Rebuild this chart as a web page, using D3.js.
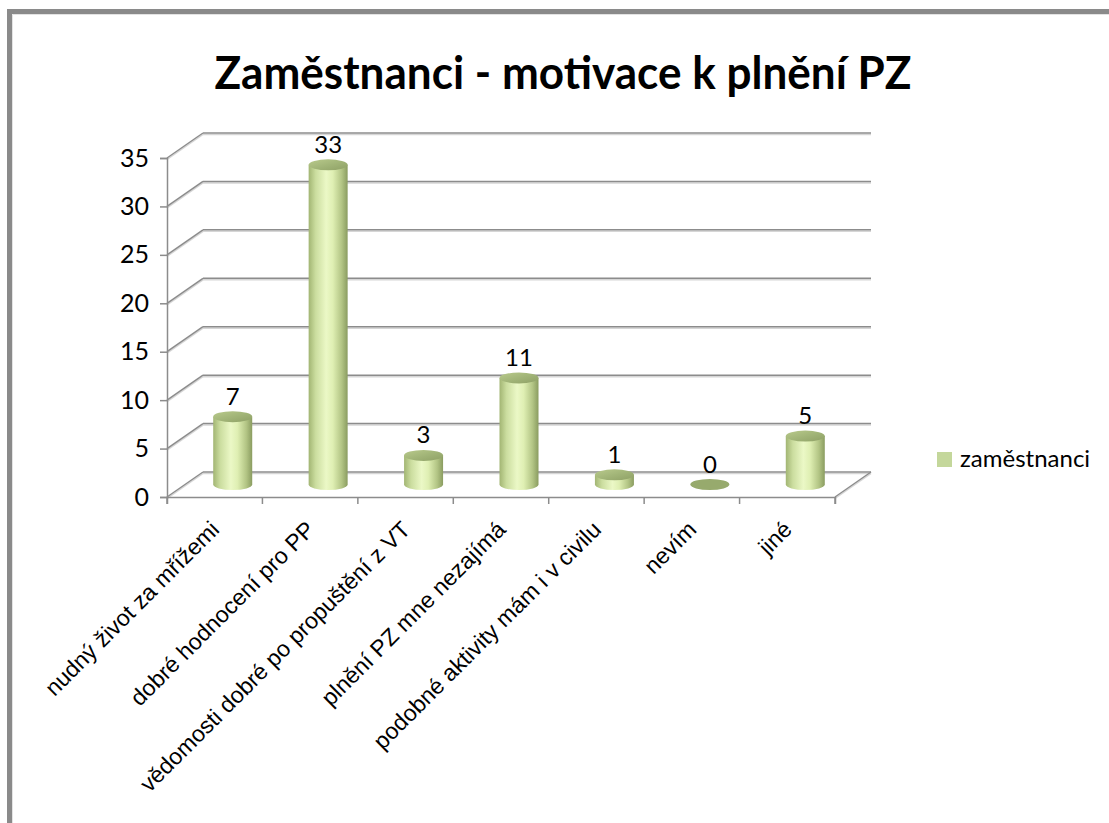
<!DOCTYPE html>
<html>
<head>
<meta charset="utf-8">
<script src="https://cdn.jsdelivr.net/npm/d3@7"></script>
<style>
  body { margin: 0; background: #fff; }
  svg { display: block; }
</style>
</head>
<body>
<div id="chart"></div>
<script>
'use strict';

var categories = ["nudný život za mřížemi", "dobré hodnocení pro PP", "vědomosti dobré po propuštění z VT",
  "plnění PZ mne nezajímá", "podobné aktivity mám i v civilu", "nevím", "jiné"];
var values = [7, 33, 3, 11, 1, 0, 5];
var yTicks = [0, 5, 10, 15, 20, 25, 30, 35];
var seriesName = "zaměstnanci";
var title = "Zaměstnanci - motivace k plnění PZ";

var W = 1109, H = 823;
var depth = { dx: 36, dy: -25 };   // 3d wall offset
var calibri = "Lato, 'Open Sans', sans-serif";

var svg = d3.select("#chart").append("svg").attr("width", W).attr("height", H);
var defs = svg.append("defs");

// frame (only top and left edges are inside the picture)
svg.append("rect").attr("x", 9.5).attr("y", 11.5).attr("width", 1400).attr("height", 1200)
  .attr("fill", "none").attr("stroke", "#8a8a8a").attr("stroke-width", 5);
svg.append("path").attr("d", "M12.5,830V14.5H1109").attr("fill", "none").attr("stroke", "#e3e3e3").attr("stroke-width", 1);

svg.append("text").attr("x", 563).attr("y", 89).attr("text-anchor", "middle")
  .attr("font-family", calibri).attr("font-weight", "bold").attr("font-size", 45)
  .attr("textLength", 697).attr("lengthAdjust", "spacingAndGlyphs")
  .text(title);

var x = d3.scaleBand().domain(categories).range([167, 835]);
var y = d3.scaleLinear().domain([0, 35]).range([497, 158]);

var grid = svg.append("g");
function gridLine(xa, ya, xb, yb) {
  grid.append("line").attr("x1", xa).attr("y1", ya + 1.5).attr("x2", xb).attr("y2", yb + 1.5)
    .attr("stroke", "#d6d6d6").attr("stroke-width", 1.5);
  grid.append("line").attr("x1", xa).attr("y1", ya).attr("x2", xb).attr("y2", yb)
    .attr("stroke", "#8c8c8c").attr("stroke-width", 1.5);
}
var x0 = x.range()[0], x1 = x.range()[1];
yTicks.forEach(function(t) {
  gridLine(x0, y(t), x0 + depth.dx, y(t) + depth.dy);
  gridLine(x0 + depth.dx, y(t) + depth.dy, x1 + depth.dx, y(t) + depth.dy);
});
// floor right edge
gridLine(x1, y(0), x1 + depth.dx, y(0) + depth.dy);

// axes
var yAxis = d3.axisLeft(y).tickValues(yTicks).tickSize(7).tickPadding(11);
var gy = svg.append("g").attr("transform", "translate(" + x0 + ",0)").call(yAxis);
gy.select(".domain").attr("stroke", "#8c8c8c").attr("stroke-width", 1.5);
gy.selectAll(".tick line").attr("stroke", "#8c8c8c").attr("stroke-width", 1.5);
gy.selectAll(".tick text").attr("font-family", calibri).attr("font-size", 25).attr("fill", "#000");

var xAxis = d3.axisBottom(x).tickSize(7).tickSizeOuter(7).tickFormat("");
var gx = svg.append("g").attr("transform", "translate(0," + y(0) + ")").call(xAxis);
gx.select(".domain").attr("stroke", "#8c8c8c").attr("stroke-width", 1.5);
gx.selectAll(".tick line").attr("stroke", "#8c8c8c").attr("stroke-width", 1.5)
  .attr("transform", function() { return "translate(" + (-x.bandwidth() / 2) + ",0)"; });
// last boundary tick
gx.append("line").attr("x1", x1).attr("x2", x1).attr("y1", 0).attr("y2", 7)
  .attr("stroke", "#8c8c8c").attr("stroke-width", 1.5);

gx.selectAll(".tick").append("text")
  .attr("font-family", "'Liberation Sans', Arial, sans-serif").attr("font-size", 23).attr("fill", "#000")
  .attr("text-anchor", "end")
  .attr("transform", "translate(6,34) rotate(-45)")
  .text(function(d) { return d; });

// cylinder gradients
var side = defs.append("linearGradient").attr("id", "side").attr("x1", 0).attr("x2", 1).attr("y1", 0).attr("y2", 0);
[[0, "#a2b573"], [0.18, "#cbdd9f"], [0.45, "#ebf8c6"], [0.62, "#dfefb3"], [0.85, "#b2c484"], [1, "#8a9c60"]]
  .forEach(function(s) { side.append("stop").attr("offset", s[0]).attr("stop-color", s[1]); });
var topGrad = defs.append("linearGradient").attr("id", "topg").attr("x1", 0).attr("x2", 1).attr("y1", 0).attr("y2", 1);
[[0, "#b9ca8c"], [0.5, "#a2b578"], [1, "#8ea065"]]
  .forEach(function(s) { topGrad.append("stop").attr("offset", s[0]).attr("stop-color", s[1]); });

var rx = 19.5, ry = 5.5;
var bars = svg.append("g");
categories.forEach(function(c, i) {
  var v = values[i];
  var cx = x(c) + x.bandwidth() / 2 + depth.dx / 2;
  var yb = y(0) + depth.dy / 2;
  var yt = y(v) + depth.dy / 2;
  if (v > 0) {
    bars.append("path")
      .attr("d", "M" + (cx - rx) + "," + yt + "V" + yb +
        "A" + rx + "," + ry + " 0 0 0 " + (cx + rx) + "," + yb + "V" + yt + "Z")
      .attr("fill", "url(#side)");
  }
  bars.append("ellipse").attr("cx", cx).attr("cy", yt).attr("rx", rx).attr("ry", ry)
    .attr("fill", v > 0 ? "url(#topg)" : "#97aa6d");
  svg.append("text").attr("x", cx).attr("y", yt - 12).attr("text-anchor", "middle")
    .attr("font-family", calibri).attr("font-size", 24).attr("fill", "#000")
    .text(v);
});

// legend
var lg = svg.append("g").attr("transform", "translate(937,452)");
lg.append("rect").attr("width", 15).attr("height", 15).attr("fill", "#c4d79b");
lg.append("text").attr("x", 23).attr("y", 15).attr("font-family", calibri).attr("font-size", 24)
  .attr("fill", "#000").text(seriesName);
</script>
</body>
</html>
